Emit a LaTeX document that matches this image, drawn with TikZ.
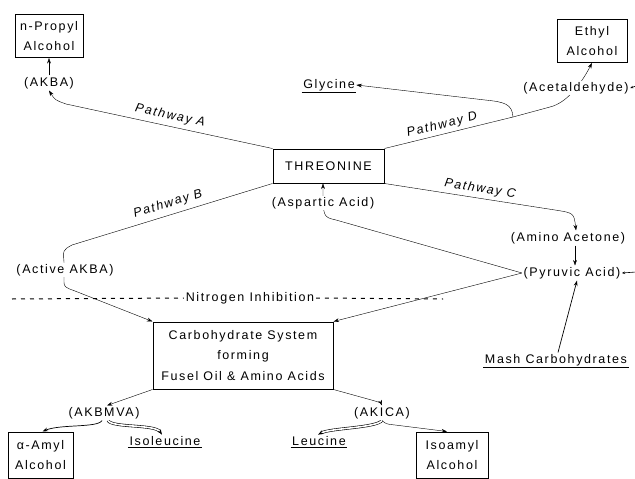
\documentclass[tikz,border=0pt]{standalone}
\usepackage{fontspec}
\setmainfont{Liberation Sans}[LetterSpace=13]
\usepackage{tikz}
\usetikzlibrary{arrows.meta, backgrounds}

\begin{document}
\begin{tikzpicture}[x=1pt, y=-1pt,
>={Stealth[length=5.5pt,width=3.8pt]},
font=\fontsize{12.5}{14}\selectfont,
boxnode/.style={rectangle, draw, line width=1pt, align=center, inner sep=1pt, font=\fontsize{12.5}{20.5}\selectfont},
textnode/.style={inner sep=1.5pt, fill=white},
pathlabel/.style={inner sep=0pt, font=\fontsize{12.5}{14}\selectfont\itshape},
flow/.style={line width=1.1pt},
twin/.style={double, double distance=1.6pt, line width=0.6pt},
tick/.style={-{Stealth[length=3pt,width=2.5pt]}, line width=0.6pt},
]
\useasboundingbox (0,0) rectangle (635,479);
\clip (0,0) rectangle (635,479);

%Nodes
\node[boxnode, minimum width=68, minimum height=43] (propyl) at (49,36) {n-Propyl\\Alcohol};
\node[textnode] (akba) at (49,83) {(AKBA)};
\node[boxnode, minimum width=70, minimum height=43] (ethyl) at (592,41) {Ethyl\\Alcohol};
\node[textnode] (acet) at (576,88) {(Acetaldehyde)};
\node[textnode] (gly) at (329,85) {Glycine};
\node[boxnode, minimum width=111, minimum height=34] (thr) at (328.5,166) {THREONINE};
\node[textnode] (asp) at (323,203) {(Aspartic Acid)};
\node[textnode] (amino) at (568,238) {(Amino Acetone)};
\node[textnode] (pyr) at (572,273) {(Pyruvic Acid)};
\node[textnode] (actakba) at (65,270) {(Active AKBA)};
\node[textnode] (nitro) at (250,298) {Nitrogen Inhibition};
\node[boxnode, minimum width=180, minimum height=67] (carb) at (243,355.5) {Carbohydrate System\\forming\\Fusel Oil \& Amino Acids};
\node[textnode] (mash) at (556,360) {Mash Carbohydrates};
\node[textnode] (akbmva) at (104,413) {(AKBMVA)};
\node[textnode] (akica) at (382,413) {(AKICA)};
\node[boxnode, minimum width=65, minimum height=46] (amyl) at (40.5,455) {α-Amyl\\Alcohol};
\node[textnode] (isol) at (165,441) {Isoleucine};
\node[textnode] (leu) at (319,441) {Leucine};
\node[boxnode, minimum width=72, minimum height=46] (isoamyl) at (452,455) {Isoamyl\\Alcohol};

\node[pathlabel, rotate=-12] (pa) at (170,116) {Pathway A};
\node[pathlabel, rotate=14] (pd) at (442,125) {Pathway D};
\node[pathlabel, rotate=17] (pb) at (168,204) {Pathway B};
\node[pathlabel, rotate=-9] (pc) at (480,189) {Pathway C};

\coordinate (dbr) at (513,117);
\coordinate (acetin) at (636,86);
\coordinate (pyrin) at (636,272);

\foreach \n in {gly,isol,leu,mash}
  \draw[line width=1pt] (\n.south west) -- (\n.south east);

%Lines
\begin{scope}[on background layer, flow]
\draw[->] (akba) -- (propyl);
\draw[->] (thr.north west) -- (66,104) .. controls (55,100) .. (akba.south);
\draw (thr.north east) -- (dbr) -- (550,107);
\draw[->] (550,107) .. controls (566,103) and (580,86) .. (ethyl.south);
\draw[->] (dbr) .. controls (512,104) and (505,102) .. (485,100) -- (gly.east);
\draw[->] (thr.south west) -- (72,245) .. controls (63,250) .. (64,262) -- (64,280) .. controls (64,287) .. (75,291) -- (carb.north west);
\draw[->] (thr.south east) -- (555,210) .. controls (574,213) .. ([xshift=8pt]amino.north);
\draw[->] ([xshift=7pt]amino.south) -- ([xshift=3pt]pyr.north);
\draw[->, line width=0.7pt] ([xshift=2pt]mash.north) -- ([xshift=5pt]pyr.south);
\draw[->] (pyr.west) -- (carb.north east);
\draw[->] (pyr.west) -- (336,220) .. controls (323,217) .. ([xshift=-5.5pt]thr.south);
\draw[dash pattern=on 4pt off 5pt, line width=1pt] (12,299) -- (nitro.west);
\draw[dash pattern=on 4pt off 5pt, line width=1pt] (nitro.east) -- (443,299);
\draw[tick] (acetin) -- (acet.east);
\draw[tick] (pyrin) -- (pyr.east);
\draw[->] (carb.south west) -- ([xshift=3pt]akbmva.north);
\draw[->, line width=0.7pt] ([xshift=-2pt]akbmva.south) .. controls (98,428) and (60,424) .. ([xshift=2pt]amyl.north);
\draw[->, twin] ([xshift=4pt]akbmva.south) .. controls (112,428) and (155,424) .. ([xshift=-3pt]isol.north);
\draw[->] (carb.south east) -- (375,401) .. controls (381,403) .. (akica.north);
\draw[->, twin] (akica.south) .. controls (376,428) and (330,428) .. ([xshift=-1pt]leu.north);
\draw[->] (akica.south) .. controls (386,424) .. (395,425) -- ([xshift=-5pt]isoamyl.north);
\end{scope}
\end{tikzpicture}
\end{document}
